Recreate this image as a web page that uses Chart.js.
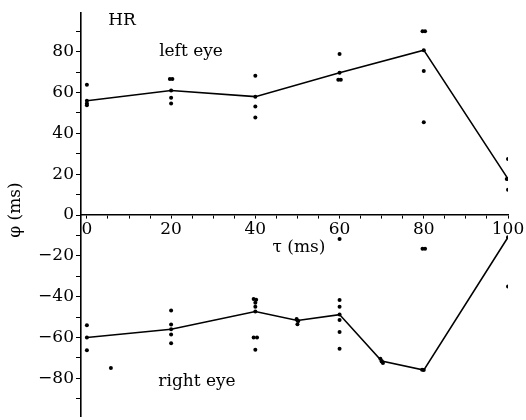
<!DOCTYPE html>
<html>
<head>
<meta charset="utf-8">
<script src="https://cdn.jsdelivr.net/npm/chart.js@4"></script>
<style>
    body { margin: 0; background: #fff; }
</style>
</head>
<body>
<canvas id="phaseChart" width="526" height="420"></canvas>
<script>
// mean lines
const leftTau = [0, 20, 40, 60, 80, 100];
const leftMean = [56, 61, 58, 69.7, 80.8, 17.7];
const rightTau = [0, 20, 40, 50, 60, 70, 80, 100];
const rightMean = [-60, -56, -47.3, -51.7, -48.8, -71.6, -76, -10.9];

// single trials
const leftTrialTau = [0, 0, 0, 19.7, 20.3, 20, 20, 40, 40, 40, 60, 59.7, 60.3, 79.7, 80.3, 80, 80, 100, 100, 99.7];
const leftTrialPhi = [63.8, 54.6, 53.8, 66.7, 66.7, 57.5, 54.6, 68.2, 53.2, 47.8, 78.9, 66.3, 66.3, 90, 90, 70.6, 45.4, 27.4, 12.4, 17.7];
const rightTrialTau = [0, 0, 5.7, 20, 20, 20, 20, 39.6, 40.2, 40, 40, 39.6, 40.4, 40, 49.8, 50, 50.2, 60, 60, 60, 60, 60, 60, 69.7, 70.3, 70, 79.7, 80.3, 79.6, 100];
const rightTrialPhi = [-54, -66.3, -75, -46.8, -53.6, -58.5, -62.9, -41.2, -41.5, -43, -45, -60, -60, -66, -51, -53.5, -52, -41.7, -45, -51.5, -57.3, -65.5, -11.7, -70.5, -72.5, -71.8, -16.5, -16.5, -75.8, -35];

const xTicks = [0, 20, 40, 60, 80, 100];
const yTicks = [-80, -60, -40, -20, 0, 20, 40, 60, 80];

const toPoints = (xs, ys) => xs.map((x, i) => ({ x: x, y: ys[i] }));
const minus = v => String(v).replace('-', '\u2212');

Chart.defaults.font.family = 'DejaVu Serif';
Chart.defaults.font.size = 17;
Chart.defaults.color = '#000';

const textPlugin = {
    id: 'texts',
    afterDatasetsDraw(chart) {
        const ctx = chart.ctx;
        ctx.save();
        ctx.fillStyle = '#000';
        ctx.font = '17px "DejaVu Serif"';
        ctx.textAlign = 'center';
        ctx.textBaseline = 'middle';
        ctx.fillText('HR', 122, 21);
        ctx.fillText('left eye', 191, 52);
        ctx.fillText('right eye', 197, 382);
        ctx.fillText('\u03c4 (ms)', 299, 248);
        ctx.translate(16, 210);
        ctx.rotate(-Math.PI / 2);
        ctx.fillText('\u03c6 (ms)', 0, 0);
        ctx.restore();
    }
};

const ctx = document.getElementById('phaseChart').getContext('2d');
new Chart(ctx, {
    type: 'scatter',
    data: {
        datasets: [
            {
                data: toPoints(leftTau, leftMean),
                showLine: true,
                borderColor: '#000',
                borderWidth: 1.6,
                backgroundColor: '#000',
                pointRadius: 2,
                pointBorderWidth: 0
            },
            {
                data: toPoints(rightTau, rightMean),
                showLine: true,
                borderColor: '#000',
                borderWidth: 1.6,
                backgroundColor: '#000',
                pointRadius: 2,
                pointBorderWidth: 0
            },
            {
                data: toPoints(leftTrialTau, leftTrialPhi),
                backgroundColor: '#000',
                borderColor: '#000',
                pointRadius: 2,
                pointBorderWidth: 0
            },
            {
                data: toPoints(rightTrialTau, rightTrialPhi),
                backgroundColor: '#000',
                borderColor: '#000',
                pointRadius: 2,
                pointBorderWidth: 0
            }
        ]
    },
    options: {
        responsive: false,
        animation: false,
        layout: { padding: { left: 0, right: 18, top: 13, bottom: 1 } },
        plugins: { legend: { display: false }, tooltip: { enabled: false } },
        scales: {
            x: {
                type: 'linear',
                position: { y: 0 },
                min: -1.4,
                max: 100,
                afterFit: scale => { scale.height = 0; },
                border: { color: '#000', width: 1.6 },
                grid: { drawOnChartArea: false, color: '#000', tickLength: 3 },
                ticks: {
                    stepSize: 5,
                    autoSkip: false,
                    maxRotation: 0,
                    includeBounds: false,
                    padding: 1,
                    callback: v => xTicks.includes(v) ? String(v) : ''
                }
            },
            y: {
                type: 'linear',
                min: -98.5,
                max: 99,
                afterFit: scale => {
                    scale.width = 81;
                    scale.paddingTop = 0;
                    scale.paddingBottom = 0;
                },
                border: { color: '#000', width: 1.6 },
                grid: { drawOnChartArea: false, color: '#000', tickLength: 5 },
                ticks: {
                    stepSize: 10,
                    autoSkip: false,
                    includeBounds: false,
                    padding: 2,
                    callback: v => yTicks.includes(v) ? minus(v) : ''
                }
            }
        }
    },
    plugins: [textPlugin]
});
</script>
</body>
</html>
